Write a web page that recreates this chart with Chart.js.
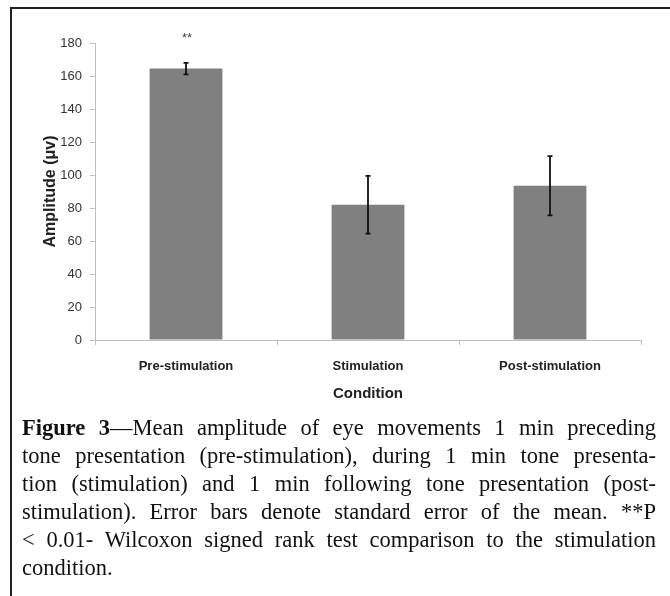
<!DOCTYPE html>
<html>
<head>
<meta charset="utf-8">
<script src="https://cdn.jsdelivr.net/npm/chart.js@4"></script>
<style>
  body { margin: 0; background: #fff; }
  #wrap { position: relative; width: 670px; height: 596px; overflow: hidden; }
  #myChart { position: absolute; left: 0; top: 0; }
  .rule-top { position: absolute; left: 10px; top: 7px; width: 660px; height: 2px; background: #222; }
  .rule-left { position: absolute; left: 10px; top: 7px; width: 2px; height: 589px; background: #222; }
  #caption {
    position: absolute; left: 22px; top: 414px; width: 634px;
    font-family: "Liberation Serif", "Times New Roman", serif;
    font-size: 22.5px; line-height: 28px; color: #111;
  }
  #caption div { text-align: justify; text-align-last: justify; }
  #caption div.last { text-align-last: left; }
</style>
</head>
<body>
<div id="wrap">
  <canvas id="myChart" width="670" height="420"></canvas>
  <div class="rule-top"></div>
  <div class="rule-left"></div>
  <div id="caption">
    <div><b>Figure 3</b>—Mean amplitude of eye movements 1 min preceding</div>
    <div>tone presentation (pre-stimulation), during 1 min tone presenta-</div>
    <div>tion (stimulation) and 1 min following tone presentation (post-</div>
    <div>stimulation). Error bars denote standard error of the mean. **P</div>
    <div>&lt; 0.01- Wilcoxon signed rank test comparison to the stimulation</div>
    <div class="last">condition.</div>
  </div>
</div>
<script>
var conditions = ["Pre-stimulation", "Stimulation", "Post-stimulation"];
var meanAmp = [164.5, 82, 93.5];
var semAmp = [3.5, 17.5, 18];
var sigMarks = ["**", "", ""];
var yTicks = [0, 20, 40, 60, 80, 100, 120, 140, 160, 180];

var axisGrey = "#bfbfbf";

// error bars + significance stars, drawn off the y scale
var errorBars = {
    id: "errorBars",
    afterDatasetsDraw: function(chart) {
        var ctx = chart.ctx;
        var ys = chart.scales.y;
        var bars = chart.getDatasetMeta(0).data;
        ctx.save();
        ctx.strokeStyle = "#111";
        ctx.lineWidth = 1.8;
        for (var i = 0; i < bars.length; i++) {
            var x = bars[i].x;
            var top = ys.getPixelForValue(meanAmp[i] + semAmp[i]);
            var bot = ys.getPixelForValue(meanAmp[i] - semAmp[i]);
            ctx.beginPath();
            ctx.moveTo(x, top); ctx.lineTo(x, bot);
            ctx.moveTo(x - 2.5, top); ctx.lineTo(x + 2.5, top);
            ctx.moveTo(x - 2.5, bot); ctx.lineTo(x + 2.5, bot);
            ctx.stroke();
            if (sigMarks[i]) {
                ctx.fillStyle = "#444";
                ctx.font = "13px 'Liberation Sans', Arial, sans-serif";
                ctx.textAlign = "center";
                ctx.textBaseline = "middle";
                ctx.fillText(sigMarks[i], x + 1, top - 24);
            }
        }
        ctx.restore();
    }
};

var ctx = document.getElementById("myChart").getContext("2d");
var myChart = new Chart(ctx, {
    type: "bar",
    data: {
        labels: conditions,
        datasets: [{
            data: meanAmp,
            backgroundColor: "#808080",
            borderWidth: 0,
            categoryPercentage: 1.0,
            barPercentage: 0.4
        }]
    },
    options: {
        responsive: false,
        animation: false,
        devicePixelRatio: 1,
        layout: { padding: { left: 0, right: 29, top: 43, bottom: 17 } },
        plugins: {
            legend: { display: false },
            tooltip: { enabled: false }
        },
        scales: {
            x: {
                afterFit: function(s) { s.height = 63; },
                border: { color: axisGrey, width: 1 },
                grid: { offset: true, drawOnChartArea: false, drawTicks: true, tickLength: 5, color: axisGrey },
                ticks: {
                    padding: 14,
                    color: "#222",
                    font: { family: "'Liberation Sans', Arial, sans-serif", size: 13, weight: "bold" }
                },
                title: {
                    display: true,
                    text: "Condition",
                    color: "#222",
                    padding: { top: 0, bottom: 0 },
                    font: { family: "'Liberation Sans', Arial, sans-serif", size: 15, weight: "bold" }
                }
            },
            y: {
                min: 0,
                max: 180,
                afterFit: function(s) { s.width = 95; },
                afterBuildTicks: function(s) {
                    s.ticks = yTicks.map(function(v) { return { value: v }; });
                },
                border: { color: axisGrey, width: 1 },
                grid: { drawOnChartArea: false, drawTicks: true, tickLength: 5, color: axisGrey },
                ticks: {
                    padding: 8,
                    color: "#333",
                    font: { family: "'Liberation Sans', Arial, sans-serif", size: 13 }
                },
                title: {
                    display: true,
                    text: "Amplitude (μv)",
                    color: "#222",
                    padding: { top: 41, bottom: 0 },
                    font: { family: "'Liberation Sans', Arial, sans-serif", size: 16, weight: "bold" }
                }
            }
        }
    },
    plugins: [errorBars]
});
</script>
</body>
</html>
